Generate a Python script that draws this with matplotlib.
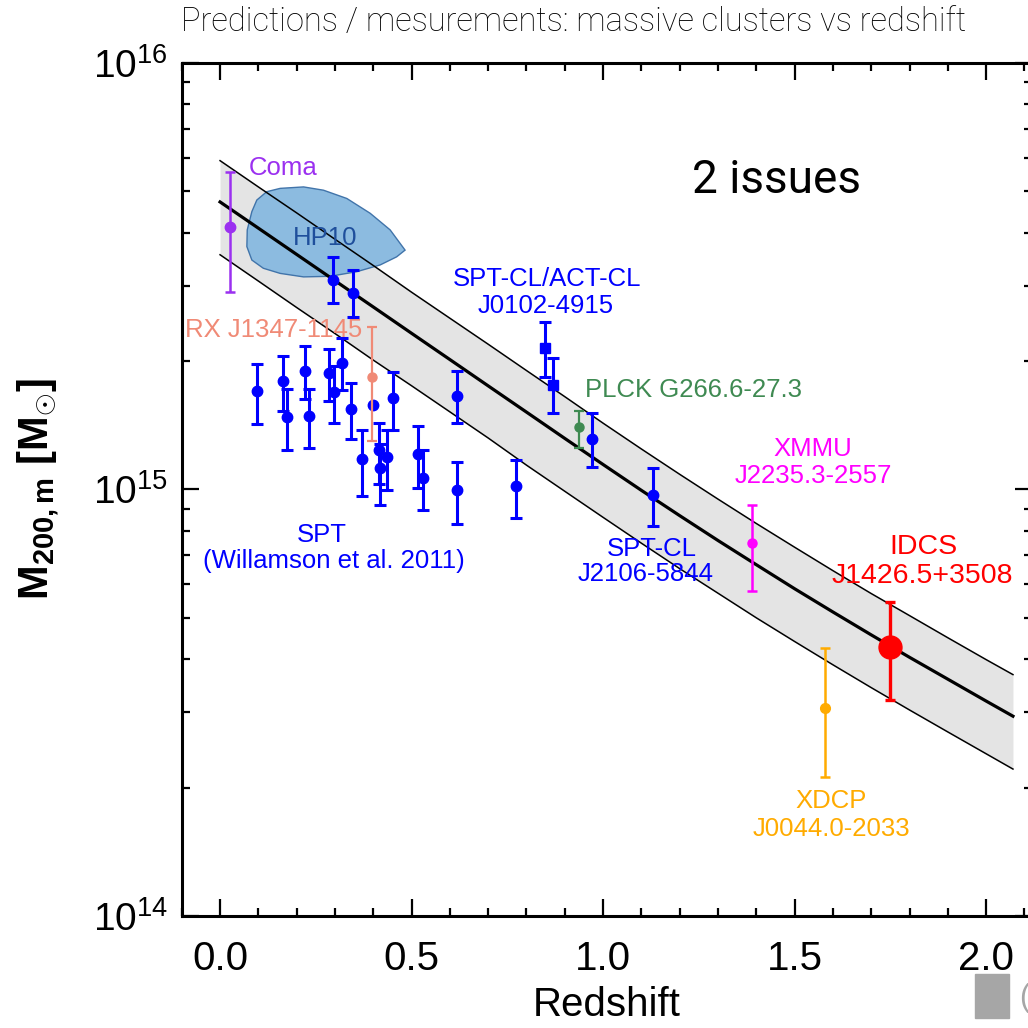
import numpy as np
import matplotlib.pyplot as plt
from matplotlib.patches import Rectangle
from matplotlib.ticker import MultipleLocator, NullFormatter, FormatStrFormatter

plt.rcParams['font.family'] = ['Liberation Sans', 'DejaVu Sans']
plt.rcParams['mathtext.fontset'] = 'custom'
plt.rcParams['mathtext.rm'] = 'Liberation Sans'
plt.rcParams['mathtext.it'] = 'Liberation Sans:italic'
plt.rcParams['mathtext.bf'] = 'Liberation Sans:bold'

UNIT = 1e15  # masses below are in units of 1e15 Msun

# prediction band (centre line and 1-sigma edges)
band_z = [0.0, 0.1, 0.2, 0.3, 0.4, 0.5, 0.6, 0.7, 0.8, 0.9, 1.0,
          1.1, 1.2, 1.3, 1.4, 1.5, 1.6, 1.7, 1.8, 1.9, 2.0, 2.07]
band_mid = [4.721, 4.098, 3.556, 3.086, 2.678, 2.323, 2.016, 1.749, 1.518, 1.317, 1.144,
            0.995, 0.868, 0.759, 0.666, 0.585, 0.516, 0.456, 0.404, 0.359, 0.319, 0.294]
band_hi = [5.90, 5.12, 4.45, 3.86, 3.35, 2.90, 2.52, 2.19, 1.90, 1.65, 1.43,
           1.244, 1.085, 0.949, 0.832, 0.732, 0.645, 0.570, 0.506, 0.449, 0.399, 0.368]
band_lo = [3.55, 3.08, 2.67, 2.32, 2.01, 1.75, 1.52, 1.32, 1.14, 0.990, 0.860,
           0.748, 0.652, 0.571, 0.500, 0.440, 0.388, 0.343, 0.304, 0.270, 0.240, 0.221]

# HP10 contour
hp10_z = [0.096, 0.122, 0.157, 0.218, 0.270, 0.331, 0.392, 0.444, 0.483, 0.461,
          0.418, 0.357, 0.287, 0.218, 0.157, 0.113, 0.083, 0.070, 0.071, 0.083]
hp10_m = [4.77, 4.99, 5.08, 5.12, 5.03, 4.81, 4.44, 4.06, 3.64, 3.51,
          3.36, 3.24, 3.16, 3.15, 3.21, 3.30, 3.45, 3.71, 4.06, 4.48]

# SPT clusters (blue circles)
spt_z = [0.097, 0.165, 0.174, 0.222, 0.232, 0.284, 0.296, 0.298, 0.319, 0.341, 0.346,
         0.370, 0.416, 0.418, 0.437, 0.451, 0.518, 0.529, 0.618, 0.618, 0.773,
         0.970, 1.131]
spt_m = [1.70, 1.80, 1.48, 1.90, 1.49, 1.87, 3.10, 1.69, 1.98, 1.54, 2.89,
         1.18, 1.235, 1.125, 1.19, 1.64, 1.21, 1.063, 0.995, 1.66, 1.016,
         1.315, 0.972]
spt_hi = [1.97, 2.06, 1.72, 2.17, 1.72, 2.13, 3.51, 1.95, 2.26, 1.78, 3.27,
          1.38, 1.43, 1.28, 1.38, 1.89, 1.41, 1.24, 1.16, 1.90, 1.17,
          1.51, 1.125]
spt_lo = [1.42, 1.53, 1.24, 1.63, 1.25, 1.61, 2.73, 1.43, 1.71, 1.31, 2.54,
          0.965, 1.03, 0.917, 0.995, 1.38, 1.01, 0.893, 0.831, 1.43, 0.859,
          1.13, 0.823]
spt_bare_z = [0.40]
spt_bare_m = [1.58]

# SPT-CL/ACT-CL J0102-4915 (squares)
j0102_z = [0.849, 0.869]
j0102_m = [2.15, 1.76]
j0102_hi = [2.47, 2.03]
j0102_lo = [1.83, 1.51]

# single clusters: z, mass, upper, lower
coma = [0.026, 4.12, 5.55, 2.90]
rxj1347 = [0.396, 1.83, 2.40, 1.30]
plck = [0.938, 1.40, 1.53, 1.25]
xmmu = [1.388, 0.75, 0.921, 0.579]
xdcp = [1.578, 0.307, 0.425, 0.212]
idcs = [1.749, 0.428, 0.544, 0.320]


def yerr(m, hi, lo):
    m, hi, lo = np.array(m), np.array(hi), np.array(lo)
    return [(m - lo) * UNIT, (hi - m) * UNIT]


fig = plt.figure(figsize=(10.28, 10.28), dpi=100)
ax = fig.add_axes([0.1768, 0.1090, 0.8272, 0.8298])

bz = np.array(band_z)
ax.fill_between(bz, np.array(band_lo) * UNIT, np.array(band_hi) * UNIT,
                color='#e4e4e4', lw=0, zorder=1)
ax.fill(hp10_z, np.array(hp10_m) * UNIT, facecolor='#8cbbe0',
        edgecolor='#4174aa', lw=1.0, zorder=1.5)
ax.plot(bz, np.array(band_hi) * UNIT, color='black', lw=1.1, zorder=2)
ax.plot(bz, np.array(band_lo) * UNIT, color='black', lw=1.1, zorder=2)
ax.plot(bz, np.array(band_mid) * UNIT, color='black', lw=2.3, zorder=2)

blue = '#0000ff'
ax.errorbar(spt_z, np.array(spt_m) * UNIT, yerr=yerr(spt_m, spt_hi, spt_lo),
            fmt='o', color=blue, ms=7.5, elinewidth=2.2, capsize=4.5,
            capthick=2.2, zorder=4)
ax.plot(spt_bare_z, np.array(spt_bare_m) * UNIT, 'o', color=blue, ms=7.5, zorder=4)
ax.errorbar(j0102_z, np.array(j0102_m) * UNIT, yerr=yerr(j0102_m, j0102_hi, j0102_lo),
            fmt='s', color=blue, ms=7.5, elinewidth=2.2, capsize=4.5,
            capthick=2.2, zorder=4)

singles = [(coma, '#9b30f0', 7.5, 1.8), (rxj1347, '#f08a76', 6.5, 1.6),
           (plck, '#3f8a52', 6.5, 1.6), (xmmu, '#ff00ff', 6.5, 1.8),
           (xdcp, '#ffab00', 7.0, 1.8), (idcs, '#ff0000', 16.5, 2.4)]
for c, col, ms, lw in singles:
    ax.errorbar([c[0]], [c[1] * UNIT], yerr=yerr([c[1]], [c[2]], [c[3]]),
                fmt='o', color=col, ms=ms, elinewidth=lw, capsize=3.5,
                capthick=lw, zorder=5)

fs = 18.5
ax.text(0.164, 5.68e15, 'Coma', color='#9b30f0', fontsize=fs, ha='center', va='center')
ax.text(0.274, 3.88e15, 'HP10', color='#1f4f9c', fontsize=fs, ha='center', va='center')
ax.text(0.139, 2.37e15, 'RX J1347-1145', color='#f08a76', fontsize=fs, ha='center', va='center')
ax.text(0.266, 0.784e15, 'SPT', color=blue, fontsize=fs, ha='center', va='center')
ax.text(0.296, 0.681e15, '(Willamson et al. 2011)', color=blue, fontsize=fs,
        ha='center', va='center')
ax.text(0.853, 3.11e15, 'SPT-CL/ACT-CL', color=blue, fontsize=fs, ha='center', va='center')
ax.text(0.851, 2.69e15, 'J0102-4915', color=blue, fontsize=fs, ha='center', va='center')
ax.text(0.953, 1.71e15, 'PLCK G266.6-27.3', color='#3f8a52', fontsize=fs,
        ha='left', va='center')
ax.text(1.127, 0.726e15, 'SPT-CL', color=blue, fontsize=fs, ha='center', va='center')
ax.text(1.112, 0.634e15, 'J2106-5844', color=blue, fontsize=fs, ha='center', va='center')
ax.text(1.547, 1.246e15, 'XMMU', color='#ff00ff', fontsize=fs, ha='center', va='center')
ax.text(1.548, 1.073e15, 'J2235.3-2557', color='#ff00ff', fontsize=fs, ha='center', va='center')
ax.text(1.836, 0.732e15, 'IDCS', color='#ff0000', fontsize=20.5, ha='center', va='center')
ax.text(1.832, 0.628e15, 'J1426.5+3508', color='#ff0000', fontsize=20.5, ha='center', va='center')
ax.text(1.594, 0.186e15, 'XDCP', color='#ffab00', fontsize=fs, ha='center', va='center')
ax.text(1.595, 0.160e15, 'J0044.0-2033', color='#ffab00', fontsize=fs, ha='center', va='center')

ax.set_yscale('log')
ax.set_ylim(1e14, 1e16)
ax.set_xlim(-0.1, 2.12)
ax.set_xticks([0.0, 0.5, 1.0, 1.5, 2.0])
ax.xaxis.set_minor_locator(MultipleLocator(0.1))
ax.xaxis.set_major_formatter(FormatStrFormatter('%.1f'))
ax.yaxis.set_minor_formatter(NullFormatter())
ax.tick_params(which='both', direction='in', top=True, right=True, width=1.6)
ax.tick_params(which='major', length=12)
ax.tick_params(which='minor', length=6)
ax.tick_params(axis='x', labelsize=29, pad=17)
ax.tick_params(axis='y', labelsize=28, pad=10)
for s in ax.spines.values():
    s.set_linewidth(2.2)

ax.set_xlabel('Redshift', fontsize=29)
ax.xaxis.set_label_coords(0.5, -0.082)
ax.set_ylabel(r'M$_{\mathregular{200,m}}$ [M$_{\odot}$]', fontsize=30, fontweight='bold')
ax.yaxis.set_label_coords(-0.142, 0.5)

fig.text(574 / 1028, 1 - 22 / 1028, 'Predictions / mesurements: massive clusters vs redshift',
         fontsize=23.5, family=['Roboto', 'DejaVu Sans'], fontweight='light',
         ha='center', va='center')
fig.text(776 / 1028, 1 - 180 / 1028, '2 issues', fontsize=33,
         family=['Roboto', 'DejaVu Sans'], ha='center', va='center')
fig.add_artist(Rectangle((975 / 1028, 1 - 1018 / 1028), 34 / 1028, 44 / 1028,
                         transform=fig.transFigure, color='#a6a6a6'))
fig.text(1019 / 1028, 1 - 998 / 1028, '(', fontsize=22, color='#a6a6a6',
         ha='left', va='center')

fig.savefig('out.png', dpi=100)
